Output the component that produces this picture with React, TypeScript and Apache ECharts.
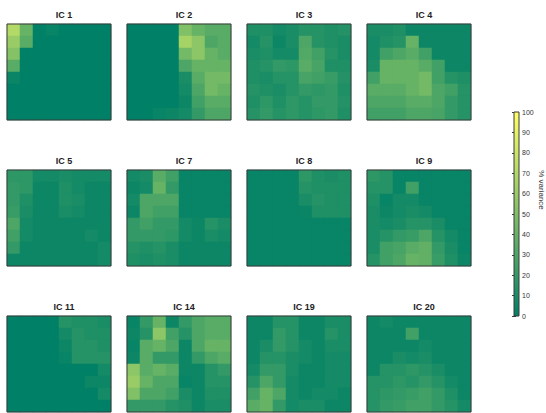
import React, { useEffect, useRef } from "react";
import * as echarts from "echarts";

const titles = ["IC 1", "IC 2", "IC 3", "IC 4", "IC 5", "IC 7", "IC 8", "IC 9", "IC 11", "IC 14", "IC 19", "IC 20"];

const ic1 = [
  [70, 40, 0, 3, 0, 0, 0, 0],
  [60, 35, 0, 0, 0, 0, 0, 0],
  [52, 0, 0, 0, 0, 0, 0, 0],
  [35, 0, 0, 0, 0, 0, 0, 0],
  [4, 0, 0, 0, 0, 0, 0, 0],
  [0, 0, 0, 0, 0, 0, 0, 0],
  [0, 0, 0, 0, 0, 0, 0, 0],
  [0, 0, 0, 0, 0, 0, 0, 0],
];
const ic2 = [
  [0, 0, 0, 0, 50, 40, 35, 35],
  [0, 0, 0, 0, 65, 55, 30, 35],
  [0, 0, 0, 0, 45, 55, 40, 35],
  [0, 0, 0, 0, 30, 40, 40, 40],
  [0, 0, 0, 0, 10, 35, 45, 45],
  [0, 0, 0, 0, 8, 30, 45, 40],
  [0, 0, 0, 0, 5, 25, 35, 35],
  [0, 0, 3, 5, 8, 20, 30, 30],
];
const ic3 = [
  [12, 12, 8, 10, 15, 15, 12, 14],
  [8, 15, 5, 10, 30, 15, 12, 10],
  [10, 12, 8, 8, 32, 25, 15, 10],
  [12, 15, 20, 18, 35, 28, 12, 12],
  [12, 10, 15, 15, 28, 25, 22, 14],
  [15, 12, 10, 15, 20, 18, 20, 12],
  [12, 18, 12, 18, 15, 20, 20, 14],
  [15, 20, 15, 18, 15, 18, 20, 12],
];
const ic4 = [
  [10, 10, 12, 5, 5, 5, 5, 5],
  [8, 12, 15, 40, 5, 5, 5, 5],
  [8, 25, 30, 35, 25, 5, 5, 5],
  [10, 40, 40, 40, 35, 25, 5, 5],
  [25, 40, 40, 40, 45, 25, 15, 12],
  [35, 35, 35, 40, 45, 30, 25, 15],
  [30, 30, 30, 35, 35, 30, 20, 15],
  [25, 25, 25, 30, 30, 28, 20, 15],
];
const ic5 = [
  [18, 18, 8, 8, 10, 8, 8, 8],
  [20, 18, 5, 5, 12, 8, 5, 5],
  [20, 12, 5, 5, 12, 10, 5, 5],
  [22, 10, 5, 5, 10, 8, 5, 5],
  [30, 8, 5, 5, 5, 5, 5, 5],
  [25, 8, 5, 5, 5, 5, 8, 5],
  [20, 5, 5, 5, 5, 5, 5, 8],
  [5, 5, 5, 5, 5, 5, 5, 8],
];
const ic7 = [
  [8, 10, 35, 25, 3, 3, 3, 3],
  [5, 8, 40, 20, 3, 3, 3, 3],
  [8, 30, 30, 30, 3, 3, 3, 3],
  [5, 30, 25, 25, 3, 3, 3, 3],
  [20, 25, 20, 20, 8, 5, 15, 10],
  [20, 20, 20, 18, 8, 5, 10, 8],
  [15, 12, 15, 10, 5, 5, 5, 5],
  [12, 10, 12, 10, 5, 5, 5, 5],
];
const ic8 = [
  [3, 3, 3, 3, 18, 12, 10, 12],
  [3, 3, 3, 3, 15, 12, 12, 12],
  [3, 3, 3, 3, 10, 15, 12, 12],
  [3, 3, 3, 3, 4, 12, 12, 12],
  [3, 3, 3, 3, 3, 3, 3, 3],
  [3, 3, 3, 3, 3, 3, 3, 3],
  [3, 3, 3, 3, 3, 3, 3, 3],
  [3, 3, 3, 3, 3, 3, 3, 3],
];
const ic9 = [
  [18, 15, 3, 3, 3, 3, 3, 3],
  [15, 15, 3, 25, 3, 3, 3, 3],
  [12, 3, 8, 8, 3, 3, 3, 3],
  [10, 5, 8, 10, 8, 3, 3, 3],
  [10, 8, 10, 15, 15, 10, 3, 3],
  [10, 15, 20, 22, 30, 15, 8, 3],
  [10, 25, 28, 35, 38, 20, 10, 3],
  [15, 25, 30, 40, 38, 22, 12, 5],
];
const ic11 = [
  [0, 0, 0, 0, 15, 12, 12, 10],
  [0, 0, 0, 0, 8, 15, 12, 12],
  [0, 0, 0, 0, 5, 15, 15, 12],
  [0, 0, 0, 0, 3, 15, 15, 15],
  [0, 0, 0, 0, 0, 0, 0, 8],
  [0, 0, 0, 0, 0, 0, 5, 5],
  [0, 0, 0, 0, 0, 0, 0, 8],
  [0, 0, 0, 0, 0, 0, 0, 0],
];
const ic14 = [
  [3, 20, 40, 5, 20, 30, 35, 35],
  [5, 15, 55, 25, 15, 30, 35, 35],
  [3, 35, 40, 30, 5, 30, 40, 40],
  [5, 35, 20, 20, 5, 20, 30, 35],
  [55, 35, 40, 35, 5, 5, 15, 20],
  [60, 40, 30, 30, 3, 5, 15, 15],
  [50, 30, 30, 25, 10, 5, 12, 12],
  [20, 20, 20, 15, 12, 5, 10, 10],
];
const ic19 = [
  [5, 5, 15, 15, 5, 5, 10, 10],
  [5, 5, 20, 15, 5, 5, 15, 10],
  [5, 10, 20, 15, 8, 5, 10, 10],
  [5, 15, 15, 10, 8, 5, 8, 8],
  [8, 20, 20, 10, 5, 5, 8, 8],
  [15, 30, 20, 8, 5, 5, 8, 8],
  [25, 40, 30, 8, 5, 8, 8, 5],
  [35, 40, 20, 8, 10, 10, 5, 5],
];
const ic20 = [
  [5, 8, 5, 5, 5, 5, 5, 5],
  [5, 5, 5, 25, 5, 5, 5, 5],
  [5, 5, 5, 5, 8, 5, 5, 5],
  [5, 5, 10, 8, 10, 5, 5, 5],
  [5, 15, 15, 18, 15, 10, 5, 5],
  [15, 15, 18, 15, 20, 15, 8, 5],
  [15, 18, 20, 22, 25, 20, 12, 5],
  [15, 20, 22, 25, 25, 20, 15, 8],
];

const panels = [ic1, ic2, ic3, ic4, ic5, ic7, ic8, ic9, ic11, ic14, ic19, ic20];
const cbTicks = [0, 10, 20, 30, 40, 50, 60, 70, 80, 90, 100];
const idx = [0, 1, 2, 3, 4, 5, 6, 7];

const colLefts = [7, 127, 247, 367];
const rowTops = [24, 170, 316];
const PW = 104;
const PH = 96;
const FONT = "Liberation Sans, Arial, sans-serif";
const LOW = "#008066";
const HIGH = "#ffff66";

export default function App() {
  const ref = useRef<HTMLDivElement>(null);
  useEffect(() => {
    if (!ref.current) return;
    const chart = echarts.init(ref.current, undefined, { renderer: "svg" });
    const grids: any[] = [];
    const xAxes: any[] = [];
    const yAxes: any[] = [];
    const series: any[] = [];
    const titleArr: any[] = [];
    panels.forEach((m, i) => {
      const c = i % 4;
      const r = Math.floor(i / 4);
      grids.push({
        left: colLefts[c],
        top: rowTops[r],
        width: PW,
        height: PH,
        show: true,
        z: 10,
        backgroundColor: "transparent",
        borderColor: "#3a3a3a",
        borderWidth: 1,
      });
      xAxes.push({ type: "category", gridIndex: i, data: idx, show: false });
      yAxes.push({ type: "category", gridIndex: i, data: idx, inverse: true, show: false });
      const data: number[][] = [];
      m.forEach((row, ri) => row.forEach((v, ci) => data.push([ci, ri, v])));
      series.push({
        type: "heatmap",
        xAxisIndex: i,
        yAxisIndex: i,
        data,
        itemStyle: { borderWidth: 0 },
        emphasis: { disabled: true },
      });
      titleArr.push({
        text: titles[i],
        left: colLefts[c] + PW / 2,
        top: rowTops[r] - 19,
        textAlign: "center",
        textStyle: { fontFamily: FONT, fontSize: 9, fontWeight: "bold", color: "#222" },
      });
    });

    // colorbar grid
    const cbIdx = panels.length;
    const cbLeft = 514;
    const cbTop = 112;
    const cbW = 5;
    const cbH = 204;
    grids.push({
      left: cbLeft,
      top: cbTop,
      width: cbW,
      height: cbH,
      show: true,
      z: 10,
      backgroundColor: "transparent",
      borderColor: "#3a3a3a",
      borderWidth: 1,
    });
    xAxes.push({ type: "value", gridIndex: cbIdx, show: false, min: 0, max: 1 });
    yAxes.push({
      type: "value",
      gridIndex: cbIdx,
      min: cbTicks[0],
      max: cbTicks[cbTicks.length - 1],
      interval: 10,
      position: "right",
      axisLine: { show: false },
      splitLine: { show: false },
      axisTick: { show: true, inside: true, length: 2, lineStyle: { color: "#3a3a3a" } },
      axisLabel: { fontFamily: FONT, fontSize: 7, color: "#333", margin: 3 },
    });
    yAxes.push({
      type: "value",
      gridIndex: cbIdx,
      min: cbTicks[0],
      max: cbTicks[cbTicks.length - 1],
      interval: 10,
      position: "left",
      axisLine: { show: false },
      splitLine: { show: false },
      axisTick: { show: true, inside: true, length: 2, lineStyle: { color: "#3a3a3a" } },
      axisLabel: { show: false },
    });

    chart.setOption({
      animation: false,
      backgroundColor: "#ffffff",
      title: titleArr,
      grid: grids,
      xAxis: xAxes,
      yAxis: yAxes,
      visualMap: {
        show: false,
        min: 0,
        max: 100,
        seriesIndex: panels.map((_, i) => i),
        inRange: { color: [LOW, HIGH] },
      },
      series,
      graphic: [
        {
          type: "rect",
          shape: { x: cbLeft, y: cbTop, width: cbW, height: cbH },
          z: 5,
          style: {
            fill: new echarts.graphic.LinearGradient(0, 0, 0, 1, [
              { offset: 0, color: HIGH },
              { offset: 1, color: LOW },
            ]),
          },
        },
        {
          type: "text",
          x: 541,
          y: 190,
          rotation: -Math.PI / 2,
          style: {
            text: "% variance",
            fontFamily: FONT,
            fontSize: 8,
            fill: "#333",
            align: "center",
            verticalAlign: "middle",
          },
        },
      ],
    });
    return () => chart.dispose();
  }, []);
  return (
    <div
      ref={ref}
      style={{ position: "fixed", left: 0, top: 0, width: 546, height: 413 }}
    />
  );
}
